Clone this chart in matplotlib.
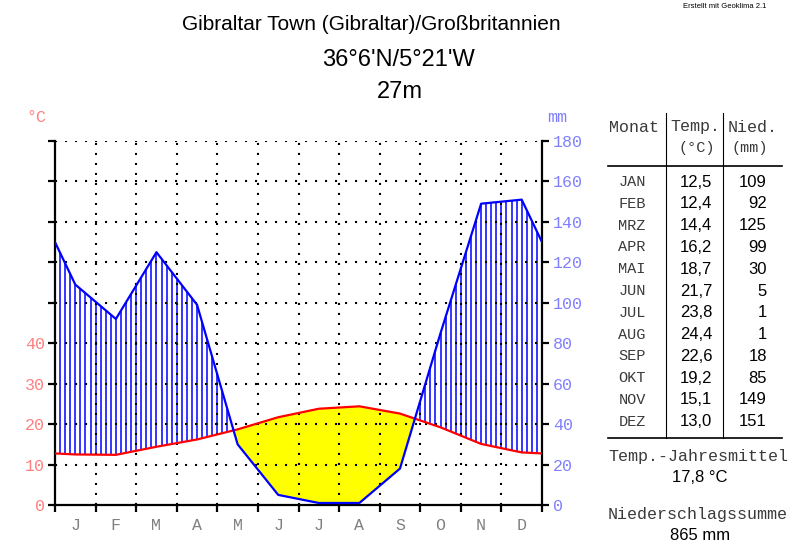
import matplotlib
matplotlib.use("Agg")
import matplotlib.pyplot as plt
from matplotlib.lines import Line2D
import numpy as np

# Climate data Gibraltar
months = ['JAN', 'FEB', 'MRZ', 'APR', 'MAI', 'JUN', 'JUL', 'AUG', 'SEP', 'OKT', 'NOV', 'DEZ']
month_letters = ['J', 'F', 'M', 'A', 'M', 'J', 'J', 'A', 'S', 'O', 'N', 'D']
temp = [12.5, 12.4, 14.4, 16.2, 18.7, 21.7, 23.8, 24.4, 22.6, 19.2, 15.1, 13.0]
precip = [109, 92, 125, 99, 30, 5, 1, 1, 18, 85, 149, 151]
temp_ticks = [0, 10, 20, 30, 40]
precip_ticks = [0, 20, 40, 60, 80, 100, 120, 140, 160, 180]
title_place = 'Gibraltar Town (Gibraltar)/Großbritannien'
title_coords = "36°6'N/5°21'W"
title_height = '27m'

W, H = 800, 557
SALMON = '#ff8080'
LBLUE = '#8080ff'
GREY_TXT = '#3a3a3a'
MONO = 'Liberation Mono'
SANS = 'Liberation Sans'

def fx(x):
    return x / W

def fy(y):
    return 1 - y / H

fig = plt.figure(figsize=(8, 5.57), dpi=100)
ax = fig.add_axes([fx(55), fy(505), fx(542) - fx(55), fy(141) - fy(505)])

# extend the curves to the plot edges (mean of Dec and Jan)
xk = np.concatenate([[0], np.arange(12) + 0.5, [12]])
t2 = np.array(temp) * 2  # 10 degC == 20 mm
t_edge = (t2[0] + t2[-1]) / 2
p_edge = (precip[0] + precip[-1]) / 2
tk = np.concatenate([[t_edge], t2, [t_edge]])
pk = np.concatenate([[p_edge], precip, [p_edge]])

xs = np.linspace(0, 12, 2401)
ti = np.interp(xs, xk, tk)
pi = np.interp(xs, xk, pk)

# arid period: yellow
ax.fill_between(xs, pi, ti, where=ti >= pi, color='yellow', lw=0, zorder=1)

# humid period: vertical blue hatching
hx = np.arange(0, 12.001, 1 / 8)
ht = np.interp(hx, xk, tk)
hp = np.interp(hx, xk, pk)
m = hp > ht
ax.vlines(hx[m], ht[m], hp[m], color='blue', lw=1.1, zorder=2)

# dotted grid
for v in precip_ticks[1:]:
    ax.plot([0, 12], [v, v], color='black', lw=1.5, dashes=(1, 3.8), zorder=3)
for b in range(1, 12):
    ax.plot([b, b], [0, 180], color='black', lw=1.5, dashes=(1, 3.8), zorder=3)

ax.plot(xk, tk, color='red', lw=1.6, zorder=4)
ax.plot(xk, pk, color='blue', lw=1.6, zorder=5)

ax.set_xlim(0, 12)
ax.set_ylim(0, 180)
ax.spines['top'].set_visible(False)
for s in ['left', 'right', 'bottom']:
    ax.spines[s].set_linewidth(1.6)
ax.set_xticks(np.arange(0, 13))
ax.set_xticklabels([])
ax.set_xticks(np.arange(12) + 0.5, minor=True)
ax.set_xticklabels(month_letters, minor=True, family=MONO, fontsize=12, color='#808080')
ax.tick_params(axis='x', which='major', length=5, width=1.6, direction='out')
ax.tick_params(axis='x', which='minor', length=0, pad=9)

ax.set_yticks(precip_ticks)
ax.set_yticklabels([str(t) if t in temp_ticks else '' for t in [v // 2 for v in precip_ticks]],
                   family=MONO, fontsize=12, color=SALMON)
ax.tick_params(axis='y', which='major', length=5, width=1.6, direction='out', pad=2,
               right=True, labelright=False)

ax2 = ax.twinx()
ax2.set_ylim(0, 180)
ax2.set_yticks(precip_ticks)
ax2.set_yticklabels([str(v) for v in precip_ticks], family=MONO, fontsize=12, color=LBLUE)
ax2.tick_params(axis='y', length=5, width=1.6, direction='out', pad=3)
for s in ax2.spines.values():
    s.set_visible(False)

fig.text(fx(36), fy(117), '°C', family=MONO, fontsize=12, color=SALMON, ha='center', va='center')
fig.text(fx(557), fy(117), 'mm', family=MONO, fontsize=12, color=LBLUE, ha='center', va='center')

# titles
fig.text(fx(371), fy(25), title_place, family=SANS, fontsize=15, ha='center', va='center')
fig.text(fx(398), fy(60), title_coords, family=SANS, fontsize=17, ha='center', va='center')
fig.text(fx(400), fy(92), title_height, family=SANS, fontsize=17, ha='center', va='center')
fig.text(fx(725), fy(6), 'Erstellt mit Geoklima 2.1', family=SANS, fontsize=5.5,
         ha='center', va='center')

# table
fig.add_artist(Line2D([fx(666), fx(666)], [fy(113), fy(438)], color='black', lw=0.8))
fig.add_artist(Line2D([fx(723), fx(723)], [fy(113), fy(438)], color='black', lw=0.8))
fig.add_artist(Line2D([fx(608), fx(782)], [fy(166), fy(166)], color='black', lw=1.2))
fig.add_artist(Line2D([fx(608), fx(782)], [fy(438), fy(438)], color='black', lw=1.2))

fig.text(fx(634), fy(127), 'Monat', family=MONO, fontsize=12, color=GREY_TXT, ha='center', va='center')
fig.text(fx(695), fy(127), 'Temp.', family=MONO, fontsize=12, color=GREY_TXT, ha='center', va='center')
fig.text(fx(753), fy(127), 'Nied.', family=MONO, fontsize=12, color=GREY_TXT, ha='center', va='center')
fig.text(fx(697), fy(148), '(°C)', family=MONO, fontsize=11, color=GREY_TXT, ha='center', va='center')
fig.text(fx(750), fy(148), '(mm)', family=MONO, fontsize=11, color=GREY_TXT, ha='center', va='center')

for i, mo in enumerate(months):
    y = 182 + i * 21.8
    fig.text(fx(632), fy(y), mo, family=MONO, fontsize=11, color=GREY_TXT, ha='center', va='center')
    fig.text(fx(696), fy(y), f'{temp[i]:.1f}'.replace('.', ','), family=SANS, fontsize=12,
             ha='center', va='center')
    fig.text(fx(767), fy(y), str(precip[i]), family=SANS, fontsize=12, ha='right', va='center')

mean_t = np.mean(temp)
sum_p = sum(precip)
fig.text(fx(698), fy(456), 'Temp.-Jahresmittel', family=MONO, fontsize=12, color=GREY_TXT,
         ha='center', va='center')
fig.text(fx(700), fy(478), f'{mean_t:.1f} °C'.replace('.', ','), family=SANS, fontsize=12,
         ha='center', va='center')
fig.text(fx(698), fy(514), 'Niederschlagssumme', family=MONO, fontsize=12, color=GREY_TXT,
         ha='center', va='center')
fig.text(fx(700), fy(536), f'{sum_p} mm', family=SANS, fontsize=12, ha='center', va='center')

fig.savefig('out.png', dpi=100)
